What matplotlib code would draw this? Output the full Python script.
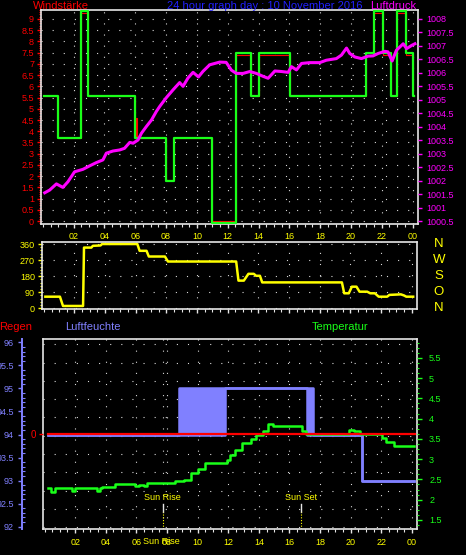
import numpy as np
import matplotlib
matplotlib.use('Agg')
import matplotlib.pyplot as plt
from matplotlib import ticker, transforms

# --- data (hours since midnight) ---
hour_ticks = [2, 4, 6, 8, 10, 12, 14, 16, 18, 20, 22, 24]
hour_labels = ['02', '04', '06', '08', '10', '12', '14', '16', '18', '20', '22', '00']

# wind (green = drawn line, red = underlying value), step after each hour
wind_hours = [0.07, 0.98, 2.45, 2.95, 5.96, 7.97, 8.5, 11.0, 12.52, 13.5,
              14.0, 16.03, 21.0, 21.5, 22.05, 22.57, 23.0, 23.55, 24.05, 24.12]
wind_speed = [5.55, 3.7, 9.35, 5.55, 3.7, 1.8, 3.7, -0.07, 7.5, 5.55,
              7.5, 5.55, 7.5, 9.35, 7.5, 5.55, 9.35, 7.5, 5.55, 5.55]
gust_hours = [0.07, 0.98, 2.45, 2.95, 5.96, 6.03, 6.08, 7.97, 8.02, 8.5, 11.0,
              12.52, 13.5, 14.0, 16.03, 21.0, 21.5, 22.05, 22.57, 23.0,
              23.55, 24.05, 24.12]
gust_speed = [5.55, 3.7, 9.25, 5.55, 3.7, 4.6, 3.7, 2.77, 1.85, 3.7, 0.0,
              7.4, 5.55, 7.4, 5.55, 7.4, 9.25, 7.4, 5.55, 9.25,
              7.4, 5.55, 5.55]

press_hours = [0.12, 0.44, 0.88, 1.3, 1.63, 2.06, 2.6, 3.04, 3.47, 3.9, 4.12,
               4.55, 4.99, 5.3, 5.64, 5.86, 6.18, 6.4, 6.72, 7.05, 7.37, 7.58,
               8.0, 8.45, 8.88, 9.1, 9.42, 9.75, 10.1, 10.4, 10.83, 11.48,
               11.9, 12.24, 12.56, 13.0, 13.43, 13.86, 14.3, 14.62, 15.06,
               15.5, 15.92, 16.14, 16.46, 16.79, 17.32, 17.97, 18.4, 19.05,
               19.38, 19.71, 19.92, 20.25, 20.68, 21.1, 21.43, 21.76, 22.2,
               22.4, 22.67, 22.95, 23.17, 23.39, 23.61, 23.94, 24.15]
press_hpa = [1001.55, 1001.65, 1001.88, 1001.75, 1001.96, 1002.33, 1002.42,
             1002.55, 1002.67, 1002.77, 1003.02, 1003.1, 1003.14, 1003.2,
             1003.42, 1003.39, 1003.51, 1003.76, 1004.01, 1004.25, 1004.57,
             1004.75, 1005.07, 1005.37, 1005.64, 1005.5, 1005.81, 1006.02,
             1005.85, 1006.06, 1006.3, 1006.4, 1006.39, 1006.1, 1005.98,
             1005.98, 1006.05, 1005.98, 1005.87, 1005.8, 1006.07, 1006.05,
             1006.02, 1006.23, 1006.11, 1006.35, 1006.38, 1006.38, 1006.47,
             1006.53, 1006.66, 1006.92, 1006.72, 1006.59, 1006.53, 1006.62,
             1006.63, 1006.72, 1006.8, 1006.78, 1006.44, 1006.84, 1006.96,
             1007.08, 1006.9, 1007.02, 1007.08]

dir_hours = [0.1, 1.05, 1.25, 2.56, 2.62, 3.1, 3.2, 3.7, 3.8, 6.1, 6.25, 6.7,
             6.85, 7.9, 8.1, 12.55, 12.7, 13.05, 13.35, 13.7, 13.85, 14.1,
             14.25, 19.45, 19.6, 19.9, 20.1, 20.4, 20.6, 21.1, 21.3, 21.6,
             21.85, 22.4, 22.55, 23.3, 23.5, 23.65, 24.1]
dir_deg = [65, 65, 13, 13, 340, 340, 350, 352, 360, 360, 322, 322,
           290, 290, 262, 262, 155, 155, 193, 193, 182, 182,
           145, 145, 84, 84, 121, 121, 93, 93, 84, 84,
           65, 65, 75, 78, 72, 65, 65]
dir_letters = ['N', 'W', 'S', 'O', 'N']
dir_letter_deg = [360, 270, 180, 90, 0]

hum_hours = [0.2, 8.77, 11.8, 17.15, 17.54, 20.72, 24.12]
hum_low = [94, 94, 95, 94, 94, 93, 93]
hum_high = [94, 95, 95, 95, 94, 93, 93]

temp_hours = [0.2, 0.45, 0.7, 1.8, 2.0, 2.25, 3.4, 3.6, 3.75, 4.6, 5.9, 6.15,
              6.5, 6.7, 8.5, 9.1, 9.55, 10.0, 10.45, 11.95, 12.1, 12.45,
              12.9, 13.5, 13.8, 14.3, 14.6, 14.95, 16.8, 17.1, 19.9, 20.2,
              20.6, 22.07, 22.3, 22.85, 24.15]
temp_c = [2.28, 2.2, 2.3, 2.22, 2.3, 2.28, 2.22, 2.28, 2.31, 2.39, 2.33, 2.37,
          2.33, 2.41, 2.45, 2.49, 2.66, 2.76, 2.91, 2.99, 3.11, 3.22,
          3.4, 3.5, 3.6, 3.69, 3.87, 3.81, 3.69, 3.61, 3.73, 3.69,
          3.61, 3.52, 3.42, 3.32, 3.32]

rain_hours = [0.2, 24.2]
rain_mm = [0, 0]

sun_events = ['Sun Rise', 'Sun Set']
sun_hours = [7.73, 16.74]

# --- style ---
W, H = 466, 555
BLACK = 'black'
WHITE = '#e6e6e6'
DOT = '#d8d8d8'
DOTTED = (0, (1, 9))
RED = '#ff0000'
GREEN = '#19ff19'
MAGENTA = '#ff00ff'
YELLOW = '#ffff00'
BLUE = '#2020ff'
HUM = '#8080ff'
FONT = 'Liberation Sans'
plt.rcParams['font.family'] = [FONT, 'DejaVu Sans']


def rect(left, top, right, bottom):
    return [left / W, 1 - bottom / H, (right - left) / W, (bottom - top) / H]


def fig_text(fig, x, y, s, color, size=8, **kw):
    fig.text(x / W, 1 - y / H, s, color=color, fontsize=size,
             ha='center', va='center', **kw)


def style_frame(ax):
    ax.set_facecolor(BLACK)
    for s in ax.spines.values():
        s.set_color(WHITE)
        s.set_linewidth(1.2)


def hide_spines(ax):
    for s in ax.spines.values():
        s.set_visible(False)


def style_time_axis(ax, labels=True):
    ax.set_xlim(-0.12, 24.35)
    ax.set_xticks(hour_ticks)
    ax.set_xticklabels(hour_labels if labels else [])
    ax.xaxis.set_minor_locator(ticker.MultipleLocator(0.5))
    ax.tick_params(axis='x', which='major', color=WHITE, labelcolor=YELLOW,
                   length=3, width=1, labelsize=6.5, pad=3)
    ax.tick_params(axis='x', which='minor', color=WHITE, length=2, width=0.8)
    ax.grid(True, which='major', axis='x', color=DOT, linestyle=DOTTED, lw=0.8)


def y_ticks(ax, lo, hi, step, color, minor=None, pad=3, length=3):
    ax.yaxis.set_major_locator(ticker.MultipleLocator(step))
    ax.set_yticks(np.arange(lo, hi + step / 2, step))
    ax.yaxis.set_major_formatter(ticker.FormatStrFormatter('%g'))
    ax.tick_params(axis='y', which='major', color=color, labelcolor=color,
                   length=length, width=1, labelsize=6.5, pad=pad)
    if minor is not None:
        ax.yaxis.set_minor_locator(ticker.MultipleLocator(minor))
        ax.tick_params(axis='y', which='minor', color=color, length=1.5, width=0.8)


fig = plt.figure(figsize=(W / 100, H / 100), dpi=100, facecolor=BLACK)

# --- panel 1: wind speed and pressure ---
ax1 = fig.add_axes(rect(41, 10, 418, 224))
style_frame(ax1)
style_time_axis(ax1)
ax1.set_ylim(-0.13, 9.4)
y_ticks(ax1, 0, 9, 0.5, RED, minor=0.1, pad=2)
ax1.grid(True, which='major', axis='y', color=DOT, linestyle=DOTTED, lw=0.8)
ax1.plot(gust_hours, gust_speed, drawstyle='steps-post', color=RED, lw=0.8, zorder=2)
ax1.plot(wind_hours, wind_speed, drawstyle='steps-post', color=GREEN, lw=1.6, zorder=3)

press_per_wind = 7.5 / 9
ax1r = ax1.twinx()
hide_spines(ax1r)
ax1r.set_ylim(1000.5 - 0.13 * press_per_wind, 1000.5 + 9.4 * press_per_wind)
y_ticks(ax1r, 1000.5, 1008, 0.5, MAGENTA, pad=3)
ax1r.plot(press_hours, press_hpa, color=MAGENTA, lw=2.2)

fig_text(fig, 60.5, 6, 'Windstärke', RED)
fig_text(fig, 265, 6, '24 hour graph day : 10 November 2016', BLUE)
fig_text(fig, 393, 6, 'Luftdruck', MAGENTA)

# --- panel 2: wind direction ---
ax2 = fig.add_axes(rect(42, 241.7, 417, 309))
style_frame(ax2)
style_time_axis(ax2, labels=False)
ax2.set_ylim(-4, 373)
y_ticks(ax2, 0, 360, 90, YELLOW, minor=18, pad=2)
ax2.grid(True, which='major', axis='y', color=DOT, linestyle=DOTTED, lw=0.8)
ax2.plot(dir_hours, dir_deg, color=YELLOW, lw=1.8)
letter_tf = transforms.blended_transform_factory(fig.transFigure, ax2.transData)
for lab, deg in zip(dir_letters, dir_letter_deg):
    ax2.text(439 / W, deg, lab, transform=letter_tf, color=YELLOW,
             fontsize=9.5, ha='center', va='center', clip_on=False)

# --- panel 3: rain, humidity, temperature ---
ax3 = fig.add_axes(rect(42.7, 339.3, 417.3, 529.3))
style_frame(ax3)
style_time_axis(ax3)
ax3.set_ylim(-0.11, 10.27)
ax3.set_yticks(range(11))
ax3.tick_params(axis='y', length=0, labelleft=False)
ax3.grid(True, which='major', axis='y', color=DOT, linestyle=DOTTED, lw=0.8)

hum_ax = ax3.twinx()
hide_spines(hum_ax)
hum_ax.yaxis.tick_left()
hum_ax.spines['left'].set_visible(True)
hum_ax.spines['left'].set_position(('axes', (22 - 42.7) / 374.6))
hum_ax.spines['left'].set_color(HUM)
hum_ax.spines['left'].set_linewidth(1.4)
hum_ax.set_ylim(91.944, 96.065)
y_ticks(hum_ax, 92, 96, 0.5, HUM, minor=0.1, pad=3)
hum_ax.tick_params(axis='y', which='minor', direction='in', length=2)
hum_ax.fill_between(hum_hours, hum_low, hum_high, step='post', color=HUM, lw=0)
hum_ax.plot(hum_hours, hum_low, drawstyle='steps-post', color=HUM, lw=1.8)
hum_ax.plot(hum_hours, hum_high, drawstyle='steps-post', color=HUM, lw=1.8)

temp_ax = ax3.twinx()
hide_spines(temp_ax)
temp_ax.set_ylim(1.27, 5.955)
y_ticks(temp_ax, 1.5, 5.5, 0.5, GREEN, minor=0.125, pad=5, length=3.5)
temp_ax.plot(temp_hours, temp_c, drawstyle='steps-post', color=GREEN, lw=1.8)

rain_ax = ax3.twinx()
hide_spines(rain_ax)
rain_ax.yaxis.tick_left()
rain_ax.set_ylim(-1, 0.987)
rain_ax.set_yticks([0])
rain_ax.set_yticklabels(['0'])
rain_ax.tick_params(axis='y', color=RED, labelcolor=RED, length=3, width=1,
                    labelsize=7, pad=2)
rain_ax.plot(rain_hours, rain_mm, color=RED, lw=1.6)

sun_tf = transforms.blended_transform_factory(ax3.transData, ax3.transAxes)
ax3.axvline(sun_hours[0], color=DOT, linestyle=DOTTED, lw=0.8)
for lab, h in zip(sun_events, sun_hours):
    ax3.plot([h, h], [0.091, 0.133], transform=sun_tf, color=WHITE, lw=1)
    ax3.plot([h, h], [0, 0.091], transform=sun_tf, color=YELLOW, lw=0.8,
             linestyle=(0, (1, 1.5)))
    ax3.text(h, 0.165, lab, transform=sun_tf, color=YELLOW, fontsize=6.5,
             ha='center', va='center')
fig_text(fig, 161, 541, sun_events[0], YELLOW, size=6.5)

fig_text(fig, 16, 327, 'Regen', RED)
fig_text(fig, 93, 327, 'Luftfeuchte', HUM)
fig_text(fig, 340, 327, 'Temperatur', GREEN)

fig.savefig('out.png', dpi=100, facecolor=BLACK)
plt.close(fig)
